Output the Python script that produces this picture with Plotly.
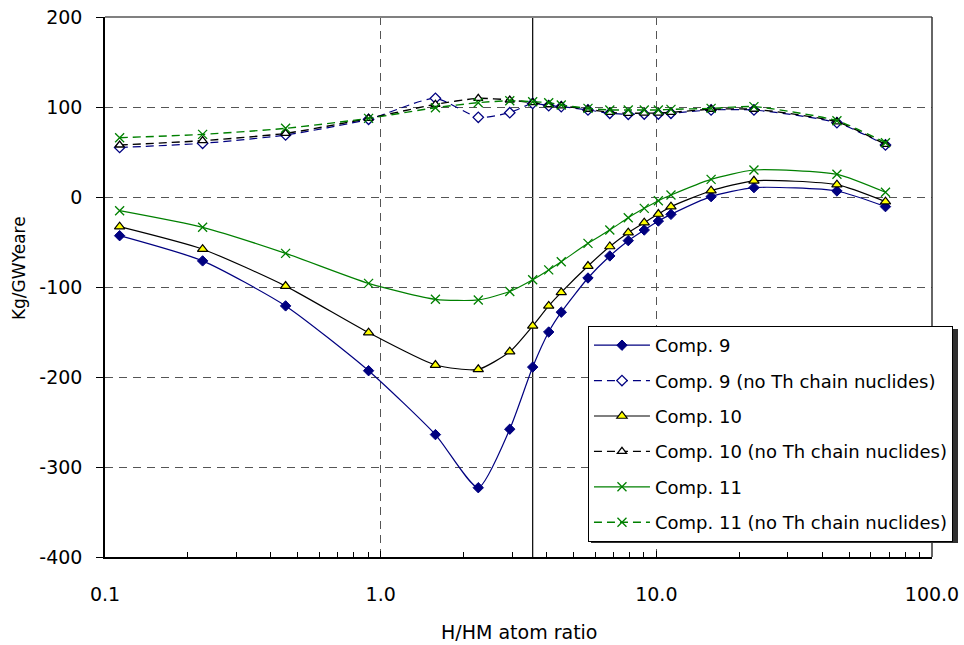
import plotly.graph_objects as go

# H/HM atom ratio
x = [0.113, 0.226, 0.452, 0.904, 1.58, 2.26, 2.94, 3.56, 4.07, 4.52, 5.65, 6.78,
     7.91, 9.04, 10.17, 11.3, 15.8, 22.6, 45.2, 67.8]

comp9 = [-43, -71, -121, -193, -264, -323, -258, -189, -150, -128, -90, -65.5,
         -48.5, -36.7, -26.7, -19.3, 0.4, 10.4, 6.7, -10.7]
comp9_nth = [55, 59.6, 68.9, 86.3, 109.6, 88.5, 93.7, 104, 101.5, 100.4, 96.7, 93,
             91.9, 92.2, 92.2, 93, 96.7, 96.7, 82.6, 57.8]
comp10 = [-33, -58, -99, -150.7, -186.7, -191.5, -171.9, -143.3, -121, -106, -76.7, -55,
          -39.6, -28.5, -18.9, -10.7, 7, 18, 13.7, -5.2]
comp10_nth = [57.8, 62.6, 70.7, 87.4, 103, 109.6, 107.8, 104.8, 102.5, 101.2, 97.5, 94,
              93, 93.2, 93.2, 94, 97.5, 97.5, 83.5, 58.5]
comp11 = [-15.2, -33.7, -62.6, -96, -113.7, -114.4, -105, -92, -81, -71.9, -51.5, -36.7,
          -23, -12.6, -4.1, 2.2, 19.6, 30, 25.2, 5.2]
comp11_nth = [65.9, 69.6, 76.3, 87.4, 99.2, 104.8, 107, 105.9, 104.8, 102.2, 98.5, 96.7,
              96.7, 96.7, 96.7, 97.4, 98.5, 100.4, 84.8, 60.3]

REF_PIN = 3.56
x_ticks = [0.1, 1, 10, 100]
x_tick_text = ["0.1", "1.0", "10.0", "100.0"]
x_minor = [m * d for d in (0.1, 1, 10) for m in range(2, 10)]
y_ticks = [-400, -300, -200, -100, 0, 100, 200]
y_tick_text = ["-400", "-300", "-200", "-100", "0", "100", "200"]

NAVY = "#000080"
GREEN = "#008000"
BLACK = "#000000"
FONT = "DejaVu Sans"

series = [
    ("Comp. 9", comp9, dict(color=NAVY, width=1.2, dash="solid"),
     dict(symbol="diamond", size=8, color=NAVY, line=dict(color=NAVY, width=1))),
    ("Comp. 9 (no Th chain nuclides)", comp9_nth, dict(color=NAVY, width=1.2, dash="8px,5px"),
     dict(symbol="diamond", size=8, color="white", line=dict(color=NAVY, width=1.3))),
    ("Comp. 10", comp10, dict(color=BLACK, width=1.2, dash="solid"),
     dict(symbol="triangle-up", size=9, color="#FFFF00", line=dict(color=BLACK, width=1.2))),
    ("Comp. 10 (no Th chain nuclides)", comp10_nth, dict(color=BLACK, width=1.4, dash="8px,5px"),
     dict(symbol="triangle-up", size=8, color="white", line=dict(color=BLACK, width=1.3))),
    ("Comp. 11", comp11, dict(color=GREEN, width=1.2, dash="solid"),
     dict(symbol="x-thin", size=9, color=GREEN, line=dict(color=GREEN, width=1.3))),
    ("Comp. 11 (no Th chain nuclides)", comp11_nth, dict(color=GREEN, width=1.4, dash="8px,5px"),
     dict(symbol="x-thin", size=9, color=GREEN, line=dict(color=GREEN, width=1.3))),
]

fig = go.Figure()
for i, (name, ys, line, marker) in enumerate(series):
    fig.add_trace(go.Scatter(
        x=x, y=ys, name=name, mode="lines+markers",
        line=dict(shape="spline", smoothing=0.6, **line),
        marker=marker, legendgroup=f"g{i}",
    ))

# Reference pin cell vertical line
fig.add_shape(type="line", xref="x", yref="paper", x0=REF_PIN, x1=REF_PIN, y0=0, y1=1,
              line=dict(color=BLACK, width=1.2), layer="below")
fig.add_annotation(x=REF_PIN, xref="x", y=0.957, yref="paper", text="Reference Pin Cell",
                   showarrow=False, bgcolor="white", font=dict(family=FONT, size=14, color=BLACK),
                   borderpad=2)

# frame: top gray, right dark
fig.add_shape(type="line", xref="paper", yref="paper", x0=0, x1=1, y0=1, y1=1,
              line=dict(color="#808080", width=2))
fig.add_shape(type="line", xref="paper", yref="paper", x0=1, x1=1, y0=0, y1=1,
              line=dict(color="#333333", width=1.5))

# legend drop shadow
fig.add_shape(type="rect", xref="paper", yref="paper",
              x0=(591 - 105) / 827, x1=(958 - 105) / 827,
              y0=(557 - 543) / 540, y1=(557 - 329) / 540,
              fillcolor="#303030", line=dict(width=0), layer="above")

# axis titles
fig.add_annotation(text="H/HM atom ratio", xref="paper", yref="paper", x=0.5, y=-0.139,
                   showarrow=False, font=dict(family=FONT, size=19, color=BLACK),
                   xanchor="center", yanchor="middle")
fig.add_annotation(text="Kg/GWYeare", xref="paper", yref="paper", x=-0.104, y=0.535,
                   showarrow=False, textangle=-90, font=dict(family=FONT, size=17, color=BLACK),
                   xanchor="center", yanchor="middle")

fig.update_layout(
    width=964, height=645,
    margin=dict(l=105, r=32, t=17, b=88, autoexpand=False),
    plot_bgcolor="white", paper_bgcolor="white",
    font=dict(family=FONT, size=19, color=BLACK),
    showlegend=True,
    legend=dict(x=0.584, y=0.4278, xanchor="left", yanchor="top",
                bgcolor="white", bordercolor=BLACK, borderwidth=1,
                font=dict(family=FONT, size=18), tracegroupgap=9,
                itemwidth=56),
    xaxis=dict(type="log", range=[-1, 2], tickvals=x_ticks, ticktext=x_tick_text,
               showgrid=True, gridcolor="#555555", griddash="8px,6px", gridwidth=1,
               showline=True, linecolor=BLACK, linewidth=2, ticks="inside", ticklen=6,
               tickcolor=BLACK, zeroline=False, automargin=False,
               ticklabelstandoff=19,
               minor=dict(tickvals=x_minor, ticks="inside", ticklen=5, tickcolor=BLACK,
                          showgrid=False),
               tickfont=dict(size=19)),
    yaxis=dict(range=[-400, 200], tickvals=y_ticks, ticktext=y_tick_text,
               showgrid=True, gridcolor="#555555",
               griddash="8px,6px", gridwidth=1, showline=True, linecolor=BLACK, linewidth=1.5,
               ticks="outside", ticklen=7, tickcolor=BLACK, zeroline=False, automargin=False,
               ticklabelstandoff=10,
               tickfont=dict(size=19)),
)

fig.write_html("out.html")
